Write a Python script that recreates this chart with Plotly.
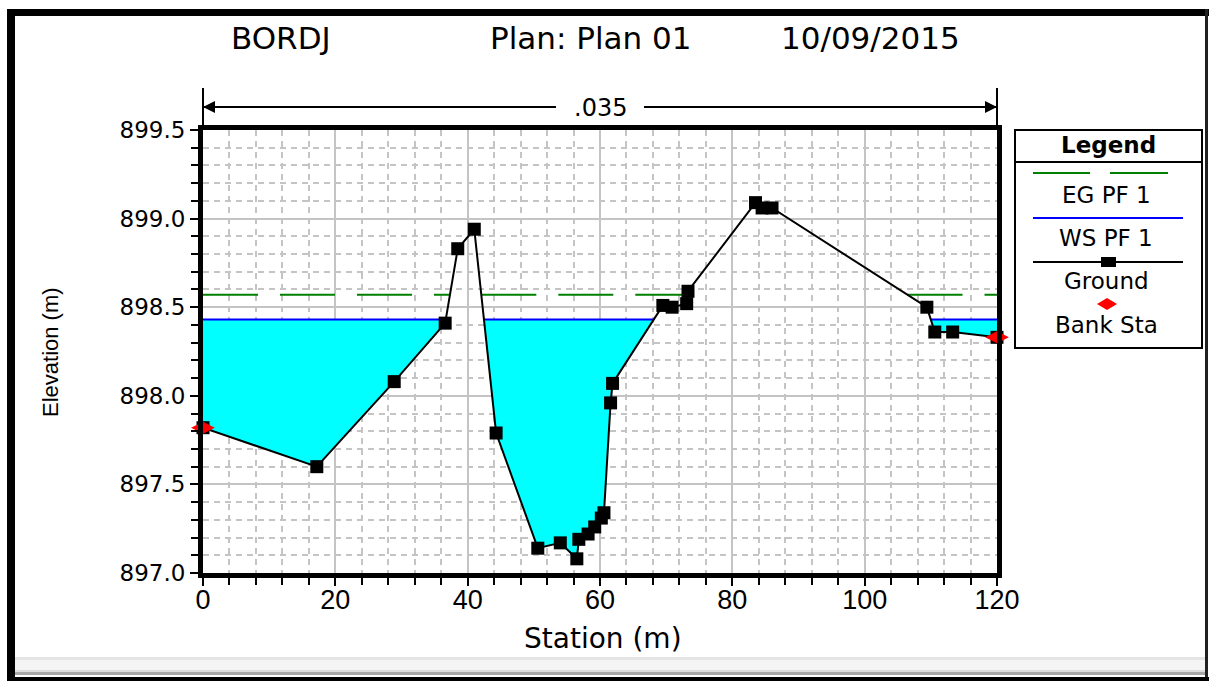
import numpy as np
import plotly.graph_objects as go

# Cross section BORDJ - ground profile (station m, elevation m)
station = [0.0, 17.2, 28.9, 36.6, 38.5, 41.0, 44.3, 50.6, 54.0, 56.5, 56.8,
           58.2, 59.2, 60.2, 60.6, 61.6, 61.9, 69.5, 70.9, 73.1, 73.3,
           83.5, 84.5, 86.0, 109.4, 110.6, 113.3, 120.0]
ground = [897.82, 897.60, 898.08, 898.41, 898.83, 898.94, 897.79, 897.14,
          897.17, 897.08, 897.19, 897.22, 897.26, 897.31, 897.34, 897.96,
          898.07, 898.51, 898.50, 898.52, 898.59, 899.09, 899.06, 899.06,
          898.50, 898.36, 898.36, 898.33]
bank_sta = [0.0, 120.0]
ws_pf1 = 898.43   # water surface
eg_pf1 = 898.57   # energy grade
mannings_n = ".035"

x_ticks = [0, 20, 40, 60, 80, 100, 120]
y_ticks = [897.0, 897.5, 898.0, 898.5, 899.0, 899.5]

st = np.array(station)
z = np.array(ground)


def wet_reaches(level):
    """Ground polylines of the reaches lying below a given level."""
    reaches, cur = [], None
    for i in range(len(st)):
        if z[i] < level:
            if cur is None:
                if i == 0:
                    cur = [(st[0], level)]
                else:
                    xc = st[i - 1] + (level - z[i - 1]) * (st[i] - st[i - 1]) / (z[i] - z[i - 1])
                    cur = [(xc, level)]
            cur.append((st[i], z[i]))
        elif cur is not None:
            xc = st[i - 1] + (level - z[i - 1]) * (st[i] - st[i - 1]) / (z[i] - z[i - 1])
            cur.append((xc, level))
            reaches.append(cur)
            cur = None
    if cur is not None:
        cur.append((st[-1], level))
        reaches.append(cur)
    return reaches


def join(parts):
    xs, ys = [], []
    for p in parts:
        xs += [q[0] for q in p] + [None]
        ys += [q[1] for q in p] + [None]
    return xs, ys


ws_reaches = wet_reaches(ws_pf1)
eg_reaches = wet_reaches(eg_pf1)
fill_x, fill_y = join(ws_reaches)
ws_x, ws_y = join([[r[0], r[-1]] for r in ws_reaches])
eg_x, eg_y = join([[r[0], r[-1]] for r in eg_reaches])

fig = go.Figure()
fig.add_trace(go.Scatter(x=fill_x, y=fill_y, mode="lines", fill="toself",
                         fillcolor="#00FFFF", line=dict(width=0),
                         hoverinfo="skip", showlegend=False))
fig.add_trace(go.Scatter(x=ws_x, y=ws_y, mode="lines", name="WS PF 1",
                         line=dict(color="#0000FF", width=2), showlegend=False))
fig.add_trace(go.Scatter(x=eg_x, y=eg_y, mode="lines", name="EG PF 1",
                         line=dict(color="#008000", width=2, dash="55px,22px"),
                         showlegend=False))
fig.add_trace(go.Scatter(x=station, y=ground, mode="lines+markers", name="Ground",
                         line=dict(color="black", width=2),
                         marker=dict(symbol="square", size=13, color="black"),
                         showlegend=False, cliponaxis=False))
fig.add_trace(go.Scatter(x=bank_sta, y=list(np.interp(bank_sta, st, z)),
                         mode="markers", name="Bank Sta",
                         marker=dict(symbol="diamond-wide", size=17, color="red"),
                         showlegend=False, cliponaxis=False))

# page geometry (pixels) of the plotting area
W, H = 1209, 681
PL, PR, PT, PB = 203, 997, 130, 573


def px(x):
    return (x - PL) / (PR - PL)


def py(y):
    return (PB - y) / (PB - PT)


shapes = []
annotations = []


def rect(x0, y0, x1, y1, color, line=None):
    shapes.append(dict(type="rect", xref="paper", yref="paper",
                       x0=px(x0), x1=px(x1), y0=py(y1), y1=py(y0),
                       fillcolor=color, line=line or dict(width=0)))


def seg(x0, y0, x1, y1, color, width=2, dash=None):
    shapes.append(dict(type="line", xref="paper", yref="paper",
                       x0=px(x0), x1=px(x1), y0=py(y0), y1=py(y1),
                       line=dict(color=color, width=width, dash=dash)))


def text(x, y, s, size, family="DejaVu Sans", color="black", angle=0, bold=False):
    annotations.append(dict(x=px(x), y=py(y), xref="paper", yref="paper",
                            text=f"<b>{s}</b>" if bold else s, showarrow=False,
                            xanchor="center", yanchor="middle", textangle=angle,
                            font=dict(family=family, size=size, color=color)))


# window frame
rect(7, 9, W, 16, "black")
rect(7, 9, 15, H, "black")
rect(1205, 9, 1208, H, "#202020")
rect(15, 657, 1205, 660, "#e4e4e4")
rect(15, 660, 1205, 670, "#f4f4f4")
rect(15, 670, 1205, 672, "#dcdcdc")
rect(15, 672, 1205, 675, "#a8a8a8")
rect(7, 677, W, H, "black")

# title
text(281, 38, "BORDJ", 31)
text(591, 38, "Plan: Plan 01", 31)
text(870, 38, "10/09/2015", 31)

# Manning's n extent marker
seg(PL, 88, PL, PT, "black", 2)
seg(PR, 88, PR, PT, "black", 2)
seg(PL, 107, 556, 107, "black", 2)
seg(644, 107, PR, 107, "black", 2)
text(600, 108, mannings_n, 24)
for xe, off in ((0, 30), (120, -30)):
    annotations.append(dict(x=xe, y=py(107), xref="x", yref="paper", ax=off, ay=0,
                            axref="pixel", ayref="pixel", text="", showarrow=True,
                            arrowhead=2, arrowsize=1.2, arrowwidth=2,
                            arrowcolor="black", standoff=0))

# axis titles
text(50, 352, "Elevation (m)", 22, family="Liberation Sans", angle=-90)
text(603, 638, "Station (m)", 28)

# legend box
rect(1015, 130, 1202, 348, "white", line=dict(color="black", width=2))
seg(1015, 162, 1202, 162, "black", 2)
text(1108, 145, "Legend", 23, bold=True)
seg(1033, 173, 1090, 173, "#008000", 2)
seg(1110, 173, 1168, 173, "#008000", 2)
text(1106, 195, "EG PF 1", 23)
seg(1033, 218, 1183, 218, "#0000FF", 2)
text(1106, 238, "WS PF 1", 23)
seg(1033, 262, 1183, 262, "black", 2)
rect(1101, 257, 1116, 267, "black")
text(1106, 281, "Ground", 23)
shapes.append(dict(type="path", xref="paper", yref="paper",
                   path=f"M {px(1097)} {py(304)} L {px(1107)} {py(298)} L {px(1117)} {py(304)} "
                        f"L {px(1107)} {py(310)} Z",
                   fillcolor="red", line=dict(width=0)))
text(1106, 325, "Bank Sta", 23)

grid = "#c4c4c4"
axis_common = dict(showline=True, linecolor="black", linewidth=5, mirror=True,
                   ticks="outside", ticklen=8, tickwidth=2, tickcolor="black",
                   showgrid=True, gridcolor=grid, gridwidth=2, zeroline=False)

fig.update_layout(
    width=W, height=H,
    margin=dict(l=PL, r=W - PR, t=PT, b=H - PB),
    paper_bgcolor="white", plot_bgcolor="white",
    shapes=shapes, annotations=annotations,
    xaxis=dict(range=[0, 120], tickmode="array", tickvals=x_ticks,
               ticktext=[str(v) for v in x_ticks], ticklabelstandoff=-9,
               tickfont=dict(family="Liberation Sans", size=27, color="black"),
               minor=dict(dtick=4, tick0=0, ticks="outside", ticklen=7, tickwidth=2,
                          tickcolor="black", showgrid=True, gridcolor=grid,
                          gridwidth=2, griddash="6px,5px"),
               **axis_common),
    yaxis=dict(range=[897.0, 899.5], tickmode="array", tickvals=y_ticks,
               ticktext=[f"{v:.1f}" for v in y_ticks],
               tickfont=dict(family="DejaVu Sans", size=23, color="black"),
               minor=dict(dtick=0.1, tick0=897.0, ticks="outside", ticklen=7, tickwidth=2,
                          tickcolor="black", showgrid=True, gridcolor=grid,
                          gridwidth=2, griddash="6px,5px"),
               **axis_common),
)

fig.write_html("out.html")
